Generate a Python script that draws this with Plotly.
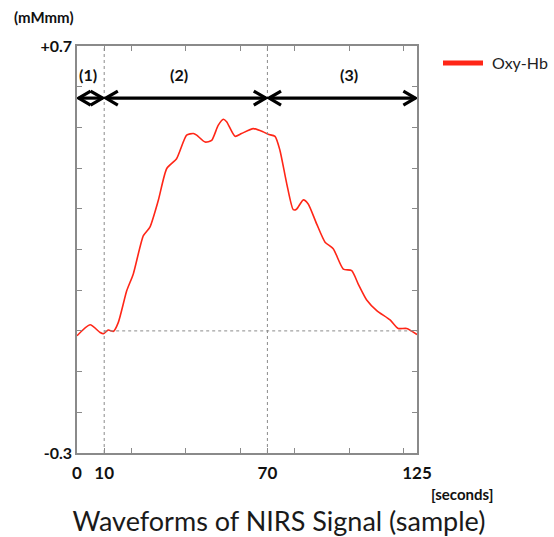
import plotly.graph_objects as go

# ---- data ----
time_s = [0, 4.8, 8.5, 9.7, 11.5, 13.4, 15.2, 18.3, 20.7, 24.4, 26.8, 29.9, 33.0, 36.6,
          40.3, 42.8, 44.0, 47.1, 49.5, 51.9, 53.8, 55.0, 58.1, 60.5, 64.8, 68.5, 70.3,
          72.8, 74.6, 77.1, 79.5, 80.7, 83.2, 85.0, 88.1, 91.2, 94.2, 97.9, 101.0, 103.4,
          106.5, 110.2, 115.1, 118.1, 121.2, 125.0]
oxy_hb = [-0.012, 0.015, -0.004, -0.007, 0.002, -0.001, 0.021, 0.099, 0.140, 0.234, 0.255,
          0.321, 0.399, 0.423, 0.481, 0.485, 0.481, 0.464, 0.468, 0.505, 0.520, 0.514,
          0.478, 0.485, 0.497, 0.489, 0.483, 0.478, 0.444, 0.362, 0.298, 0.299, 0.322,
          0.312, 0.263, 0.218, 0.202, 0.152, 0.148, 0.115, 0.076, 0.050, 0.027, 0.006,
          0.006, -0.009]

phase_bounds = [0, 10, 70, 125]
phase_labels = ["(1)", "(2)", "(3)"]
x_tick_vals = [0, 10, 20, 40, 60, 70, 80, 100, 120, 125]
x_tick_text = ["0", "10", "", "", "", "70", "", "", "", "125"]
y_tick_vals = [-0.3, -0.2, -0.1, 0.0, 0.1, 0.2, 0.3, 0.4, 0.5, 0.6, 0.7]
y_tick_text = ["-0.3", "", "", "", "", "", "", "", "", "", "+0.7"]
x_range = [0, 125]
y_range = [-0.3, 0.7]

# ---- styling / placement constants ----
arrow_level = 0.572
label_level = 0.630
label_x = [4.0, 37.5, 100.0]

FONT = "Lato"
W, H = 554, 537
ML, MR, MT, MB = 77, 137, 46, 84
pw = W - ML - MR
ph = H - MT - MB
sx = pw / (x_range[1] - x_range[0])   # px per second
sy = ph / (y_range[1] - y_range[0])   # px per unit

fig = go.Figure()
fig.add_trace(go.Scatter(
    x=time_s, y=oxy_hb, mode="lines", name="Oxy-Hb", showlegend=False,
    line=dict(color="#ff2617", width=1.6, shape="spline", smoothing=0.6),
))
# legend entry (thicker swatch as in the reference)
fig.add_trace(go.Scatter(
    x=[None], y=[None], mode="lines", name="\u00a0Oxy-Hb", showlegend=True,
    line=dict(color="#ff2617", width=5),
))

shapes = []
gray = "#8a8a8a"
for b in phase_bounds[1:-1]:
    shapes.append(dict(type="line", xref="x", yref="y", x0=b, x1=b,
                       y0=y_range[0], y1=y_range[1],
                       line=dict(color=gray, width=1, dash="dot")))
shapes.append(dict(type="line", xref="x", yref="y", x0=phase_bounds[1], x1=x_range[1],
                   y0=0, y1=0, line=dict(color=gray, width=1, dash="dot")))

inset = 0.6
hl = 12 / sx
hh = 7 / sy
annotations = []
for i in range(3):
    a = phase_bounds[i] + inset
    b = phase_bounds[i + 1] - inset
    shapes.append(dict(type="line", xref="x", yref="y", x0=a, x1=b,
                       y0=arrow_level, y1=arrow_level,
                       line=dict(color="black", width=3.2)))
    for tip, d in ((a, 1), (b, -1)):
        path = (f"M {tip + d*hl},{arrow_level + hh} L {tip},{arrow_level} "
                f"L {tip + d*hl},{arrow_level - hh}")
        shapes.append(dict(type="path", xref="x", yref="y", path=path,
                           line=dict(color="black", width=3.2)))
    annotations.append(dict(x=label_x[i], y=label_level,
                            xref="x", yref="y", text="<b>%s</b>" % phase_labels[i],
                            xanchor="center", yanchor="middle",
                            showarrow=False, font=dict(family=FONT, size=16, color="#111")))

annotations.append(dict(x=(44 - ML) / pw, y=(H - MB - 17) / ph, xref="paper", yref="paper",
                        xanchor="center", yanchor="middle",
                        text="<b>(mMmm)</b>", showarrow=False,
                        font=dict(family=FONT, size=15, color="#111")))
annotations.append(dict(x=(462 - ML) / pw, y=(H - MB - 494) / ph, xref="paper", yref="paper",
                        xanchor="center", yanchor="middle",
                        text="<b>[seconds]</b>", showarrow=False,
                        font=dict(family=FONT, size=15, color="#111")))

fig.update_layout(
    width=W, height=H,
    margin=dict(l=ML, r=MR, t=MT, b=MB, autoexpand=False),
    plot_bgcolor="white", paper_bgcolor="white",
    shapes=shapes, annotations=annotations,
    title=dict(text="Waveforms of NIRS Signal (sample)", x=279 / W, xanchor="center",
               y=1 - 522 / H, yanchor="middle", yref="container", automargin=False,
               font=dict(family=FONT, size=27, color="#1a1a1a")),
    legend=dict(x=(438 - ML) / pw, y=1.0, xanchor="left", yanchor="top", itemwidth=40,
                font=dict(family=FONT, size=16, color="#222"), bgcolor="rgba(0,0,0,0)"),
    showlegend=True,
)
fig.update_xaxes(range=x_range, tickmode="array", tickvals=x_tick_vals, ticktext=x_tick_text,
                 ticks="inside", ticklen=5, tickcolor=gray, tickwidth=1,
                 showgrid=False, zeroline=False, showline=True, linecolor=gray,
                 linewidth=1.5, mirror="allticks", ticklabelstandoff=4, automargin=False,
                 tickfont=dict(family=FONT, size=17, color="#111", weight="bold"))
fig.update_yaxes(range=y_range, tickmode="array", tickvals=y_tick_vals, ticktext=y_tick_text,
                 ticks="inside", ticklen=5, tickcolor=gray, tickwidth=1,
                 showgrid=False, zeroline=False, showline=True, linecolor=gray,
                 linewidth=1.5, mirror="allticks", automargin=False,
                 tickfont=dict(family=FONT, size=16, color="#111", weight="bold"))

fig.write_html("out.html", config={"displayModeBar": False},
               post_script="document.body.style.margin='0';")
